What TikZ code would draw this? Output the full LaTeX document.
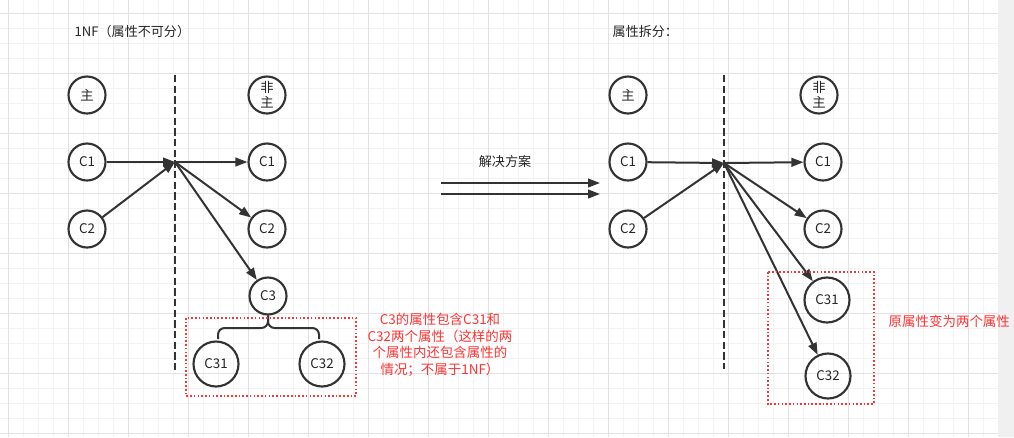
\documentclass[tikz,border=0pt]{standalone}
\usepackage{fontspec}
\newfontfamily\cjk{Noto Sans CJK SC}
\usetikzlibrary{arrows.meta}
\definecolor{linegray}{HTML}{333333}
\definecolor{gridminor}{HTML}{F3F3F3}
\definecolor{gridmajor}{HTML}{E2E2E2}
\definecolor{notered}{HTML}{FF3333}
\definecolor{sidegray}{HTML}{F0F0F0}

\begin{document}
\begin{tikzpicture}[x=0.75pt,y=-0.75pt,
  attr/.style={circle,draw=linegray,line width=1.6pt,minimum size=27.75pt,inner sep=0pt,
    font=\cjk\fontsize{10pt}{11pt}\selectfont,text=black!85,align=center},
  bigattr/.style={attr,minimum size=33.75pt},
  arr/.style={-{Triangle[length=9pt,width=6.5pt]},draw=linegray,line width=1.5pt},
  sep/.style={draw=linegray,line width=1.6pt,dash pattern=on 5.5pt off 2.5pt},
  group/.style={draw=notered,line width=1.2pt,dash pattern=on 1.2pt off 1.6pt},
  label/.style={font=\cjk\fontsize{9.8pt}{12pt}\selectfont,text=black!85},
  note/.style={font=\cjk\fontsize{10.1pt}{12.4pt}\selectfont,text=notered,align=center}]
\useasboundingbox (0,0) rectangle (1014,437);
% background grid
\fill[white] (0,0) rectangle (998,437);
\foreach \x in {8,23,...,983} \draw[gridminor,line width=0.75pt] (\x,0) -- (\x,437);
\foreach \y in {13,28,...,433} \draw[gridminor,line width=0.75pt] (0,\y) -- (998,\y);
\foreach \x in {8,68,...,968} \draw[gridmajor,line width=0.75pt] (\x,0) -- (\x,437);
\foreach \y in {13,73,...,433} \draw[gridmajor,line width=0.75pt] (0,\y) -- (998,\y);
\fill[sidegray] (998,0) rectangle (1014,437);

% left: 1NF
\node[label,anchor=west] (titleL) at (70,32) {1NF（属性不可分）};
\node[attr] (pkL) at (87,95) {主};
\node[attr] (npkL) at (267,95) {非\\主};
\node[attr] (c1L) at (87,162) {C1};
\node[attr] (c2L) at (87,229) {C2};
\node[attr] (c1NL) at (267,162) {C1};
\node[attr] (c2NL) at (267,229) {C2};
\node[attr] (c3L) at (268,296) {C3};
\node[bigattr] (c31L) at (216,364) {C31};
\node[bigattr] (c32L) at (322,364) {C32};
\coordinate (topL) at (175,75);
\coordinate (botL) at (175,370);
\coordinate (hubL) at (175,162);
\draw[sep] (topL) -- (botL);
\draw[arr] (c1L) -- (hubL);
\draw[arr] (c2L) -- (hubL);
\draw[arr] (hubL) -- (c1NL);
\draw[arr] (hubL) -- (c2NL);
\draw[arr] (hubL) -- (c3L);
% brace under C3
\coordinate (braceA) at (218,339);
\coordinate (braceB) at (319,339);
\coordinate (braceM) at (268,328);
\draw[linegray,line width=1.5pt,rounded corners=5pt] (braceA) |- (braceM) -- (c3L.south);
\draw[linegray,line width=1.5pt,rounded corners=5pt] (braceB) |- (braceM) -- (c3L.south);
\draw[group] (186,318) rectangle (356,396);
\node[note] (noteL) at (440,345) {C3的属性包含C31和\\C32两个属性（这样的两\\个属性内还包含属性的\\情况；不属于1NF）};

% middle
\node[label] (fix) at (505,162) {解决方案};
\coordinate (fixA1) at (441,183);
\coordinate (fixB1) at (600,183);
\coordinate (fixA2) at (441,194);
\coordinate (fixB2) at (600,194);
\draw[arr] (fixA1) -- (fixB1);
\draw[arr] (fixA2) -- (fixB2);

% right: split
\node[label,anchor=west] (titleR) at (608,32) {属性拆分：};
\node[attr] (pkR) at (628,95) {主};
\node[attr] (npkR) at (819,95) {非\\主};
\node[attr] (c1R) at (628,162) {C1};
\node[attr] (c2R) at (628,229) {C2};
\node[attr] (c1NR) at (823,162) {C1};
\node[attr] (c2NR) at (823,229) {C2};
\node[bigattr] (c31R) at (827,300) {C31};
\node[bigattr] (c32R) at (828,376) {C32};
\coordinate (topR) at (724,75);
\coordinate (botR) at (724,369);
\coordinate (hubR) at (724,163);
\draw[sep] (topR) -- (botR);
\draw[arr] (c1R) -- (hubR);
\draw[arr] (c2R) -- (hubR);
\draw[arr] (hubR) -- (c1NR);
\draw[arr] (hubR) -- (c2NR);
\draw[arr] (hubR) -- (c31R);
\draw[arr] (hubR) -- (c32R);
\draw[group] (768,272) rectangle (874,404);
\node[note,anchor=west] (noteR) at (884,321) {原属性变为两个属性};
\end{tikzpicture}
\end{document}
